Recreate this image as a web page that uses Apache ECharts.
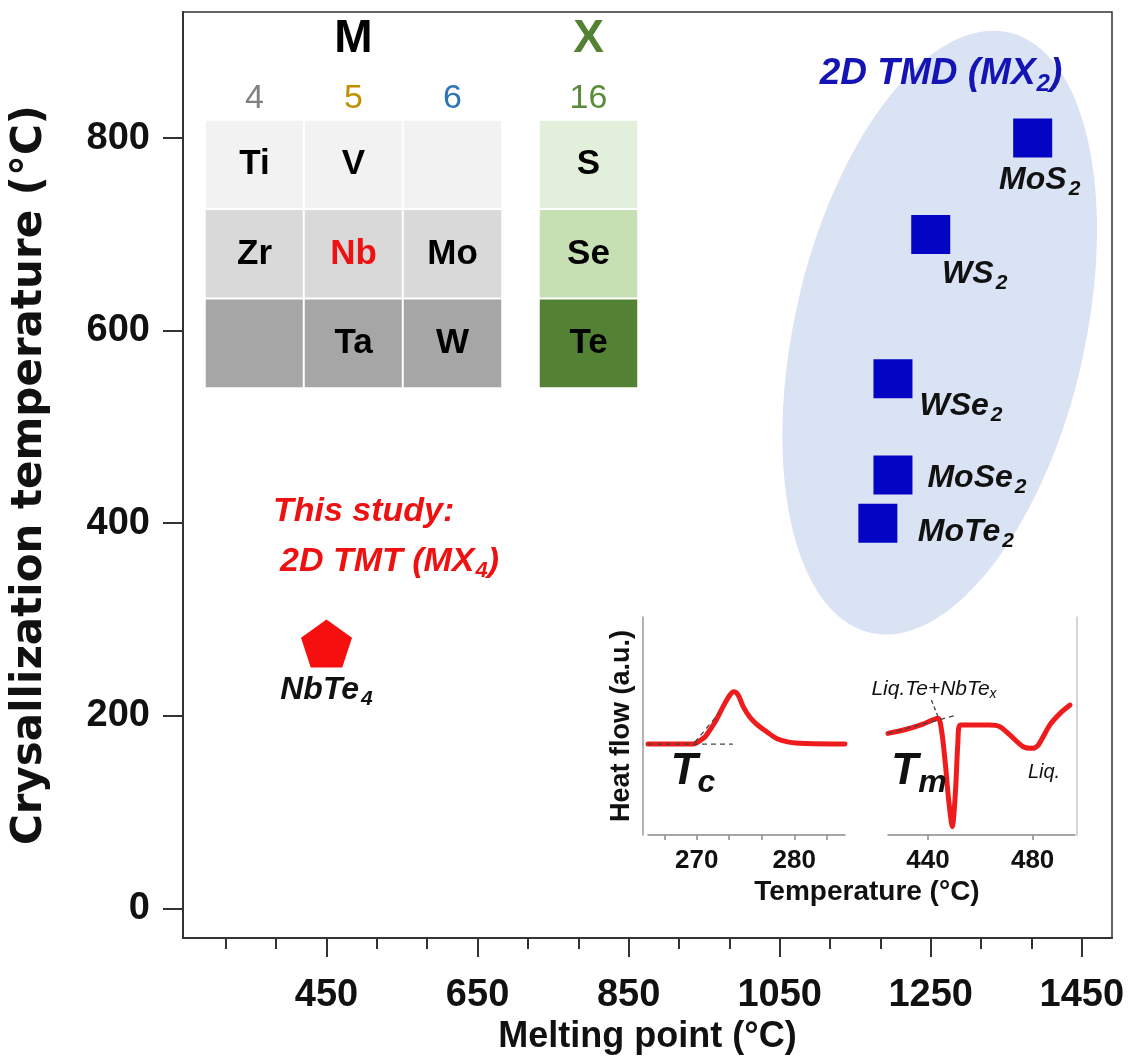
<!DOCTYPE html>
<html>
<head>
<meta charset="utf-8">
<script src="https://cdn.jsdelivr.net/npm/echarts@6/dist/echarts.min.js"></script>
<style>html,body{margin:0;padding:0;background:#fff}#c{width:1130px;height:1060px}</style>
</head>
<body>
<div id="c"></div>
<script>
// ---------- data ----------
const tmdNames = ['MoS2', 'WS2', 'WSe2', 'MoSe2', 'MoTe2'];
const tmdMelting = [1385, 1250, 1200, 1200, 1180];
const tmdCryst = [800, 700, 550, 450, 400];
const tmtNames = ['NbTe4'];
const tmtMelting = [450];
const tmtCryst = [275];

const xMajorTicks = [450, 650, 850, 1050, 1250, 1450];
const xMinorTicks = [316.67, 383.33, 516.67, 583.33, 716.67, 783.33, 916.67, 983.33, 1116.67, 1183.33, 1316.67, 1383.33];
const yTicks = [0, 200, 400, 600, 800];

// periodic table excerpt
const mGroups = ['4', '5', '6'];
const mElements = [['Ti', 'V', ''], ['Zr', 'Nb', 'Mo'], ['', 'Ta', 'W']];
const xGroups = ['16'];
const xElements = ['S', 'Se', 'Te'];
const highlightElement = 'Nb';

// DSC inset (heat flow, arbitrary units)
const dscCoolT = [265, 269.6, 270.65, 271.0, 272.0, 272.7, 273.4, 273.8, 274.25, 274.76, 275.45, 276.13, 277.16, 278.18, 279.55, 281.27, 285.2];
const dscCoolHF = [41.7, 41.7, 44.3, 45.9, 52.8, 58.9, 64.2, 65.7, 64.2, 58.9, 54.0, 50.9, 47.4, 44.3, 42.5, 42.0, 41.7];
const dscHeatT = [424.7, 431.7, 438.1, 443.8, 445.3, 446.6, 447.9, 449.3, 450.5, 451.4, 452.3, 457.3, 463.6, 467.5, 471.3, 476.4, 480.2, 482.2, 486.6, 490.5, 494.3];
const dscHeatHF = [46.6, 48.5, 50.9, 53.5, 47, 33, 16, 3.8, 20, 42, 50.5, 50.5, 50.5, 49.7, 45.9, 40.5, 39.8, 41.3, 50.5, 55.8, 59.6];
const dscCoolTicks = [266.67, 270, 273.33, 276.67, 280, 283.33];
const dscCoolLabels = [270, 280];
const dscHeatTicks = [440, 480];
const dscHeatLabels = [440, 480];
const tcBaseT = [265, 273.7], tcBaseHF = [41.7, 41.7];
const tcSlopeT = [269.8, 272.3], tcSlopeHF = [42.5, 56];
const tmBaseT = [424.7, 451], tmBaseHF = [46.6, 55];
const tmPointerT = [441.3, 443.8], tmPointerHF = [61.9, 54.3];

// ---------- styles ----------
const FF = '"Liberation Sans", Arial, sans-serif';
const mRowColors = ['#f2f2f2', '#d9d9d9', '#a6a6a6'];
const xRowColors = ['#e2efda', '#c6e0b4', '#548235'];
const mGroupColors = ['#808080', '#bf9000', '#2e75b6'];
const labelOffsets = { MoS2: [7, 42], WS2: [44, 40], WSe2: [68, 27], MoSe2: [84, 3], MoTe2: [88, 9], NbTe4: [0, 47] };
const PENTAGON = 'path://M50,0 L97.55,34.55 L79.39,90.45 L20.61,90.45 L2.45,34.55 Z';

function richName(n) {
  const m = n.match(/^(.*?)(\d+)$/);
  return m ? '{b|' + m[1] + '}{s|' + m[2] + '}' : '{b|' + n + '}';
}
const compoundRich = {
  b: { fontSize: 32, fontWeight: 'bold', fontStyle: 'italic', color: '#111', fontFamily: FF },
  s: { fontSize: 21, fontWeight: 'bold', fontStyle: 'italic', color: '#111', fontFamily: FF, padding: [18, 0, 0, 2] }
};

function scatterData(names, xs, ys) {
  return names.map((n, i) => ({
    name: n, value: [xs[i], ys[i]],
    label: { offset: labelOffsets[n] || [0, 0] }
  }));
}
function heatData(elements, rowColors) {
  const out = [];
  elements.forEach((row, r) => {
    const cols = Array.isArray(row) ? row : [row];
    cols.forEach((el, c) => {
      const item = { name: el, value: [c, r, r], itemStyle: { color: rowColors[r] } };
      if (el === highlightElement) item.label = { color: '#ee1111' };
      out.push(item);
    });
  });
  return out;
}
function zip(a, b) { return a.map((v, i) => [v, b[i]]); }

const chart = echarts.init(document.getElementById('c'));

const tickLabelStyle = { color: '#111', fontSize: 38, fontWeight: 'bold', fontFamily: FF, formatter: v => String(v) };
const insetLabel = { color: '#111', fontSize: 26, fontWeight: 'bold', fontFamily: FF, formatter: v => String(v) };
const dashStyle = { color: '#444', width: 1.3, type: [5, 4] };

const option = {
  animation: false,
  backgroundColor: '#fff',
  grid: [
    { left: 183, top: 12, right: 18, bottom: 121, show: true, borderColor: '#333', borderWidth: 1.5, backgroundColor: 'transparent' },
    { left: 648, top: 617, width: 197, height: 218 },
    { left: 888, top: 617, width: 187, height: 218 },
    { left: 205, top: 120, width: 297, height: 268 },
    { left: 539, top: 120, width: 99, height: 268 }
  ],
  xAxis: [
    {
      type: 'value', gridIndex: 0, min: 260, max: 1490,
      name: 'Melting point (°C)', nameLocation: 'middle', nameGap: 76,
      nameTextStyle: { color: '#111', fontSize: 36, fontWeight: 'bold', fontFamily: FF },
      axisLine: { show: true, onZero: false, lineStyle: { color: '#333', width: 2 } },
      axisTick: { show: true, customValues: xMajorTicks, length: 19, lineStyle: { color: '#333', width: 2 } },
      axisLabel: { customValues: xMajorTicks, margin: 38, ...tickLabelStyle },
      splitLine: { show: false }
    },
    {
      type: 'value', gridIndex: 0, min: 260, max: 1490, position: 'bottom',
      axisLine: { show: false, onZero: false },
      axisTick: { show: true, customValues: xMinorTicks, length: 11, lineStyle: { color: '#333', width: 2 } },
      axisLabel: { show: false }, splitLine: { show: false }
    },
    {
      type: 'value', gridIndex: 1, min: 265, max: 285.2,
      axisLine: { show: true, onZero: false, lineStyle: { color: '#8a8a8a', width: 1.5 } },
      axisTick: { show: true, customValues: dscCoolTicks, length: 5, lineStyle: { color: '#8a8a8a', width: 1.5 } },
      axisLabel: { customValues: dscCoolLabels, margin: 13, ...insetLabel },
      splitLine: { show: false }
    },
    {
      type: 'value', gridIndex: 2, min: 424.7, max: 496.2,
      axisLine: { show: true, onZero: false, lineStyle: { color: '#8a8a8a', width: 1.5 } },
      axisTick: { show: true, customValues: dscHeatTicks, length: 5, lineStyle: { color: '#8a8a8a', width: 1.5 } },
      axisLabel: { customValues: dscHeatLabels, margin: 13, ...insetLabel },
      splitLine: { show: false }
    },
    {
      type: 'category', gridIndex: 3, data: mGroups, position: 'top',
      name: 'M', nameLocation: 'middle', nameGap: 58,
      nameTextStyle: { color: '#000', fontSize: 46, fontWeight: 'bold', fontFamily: FF },
      axisLine: { show: false }, axisTick: { show: false },
      axisLabel: { margin: 4, fontSize: 34, fontFamily: FF, color: (v, i) => mGroupColors[i] }
    },
    {
      type: 'category', gridIndex: 4, data: xGroups, position: 'top',
      name: 'X', nameLocation: 'middle', nameGap: 58,
      nameTextStyle: { color: '#548235', fontSize: 46, fontWeight: 'bold', fontFamily: FF },
      axisLine: { show: false }, axisTick: { show: false },
      axisLabel: { margin: 4, fontSize: 34, fontFamily: FF, color: '#5b8c3a' }
    }
  ],
  yAxis: [
    {
      type: 'value', gridIndex: 0, min: -31, max: 931,
      name: 'Crysallization temperature (°C)', nameLocation: 'middle', nameGap: 132,
      nameTextStyle: { color: '#111', fontSize: 42, fontWeight: 'bold', fontFamily: '"DejaVu Sans", sans-serif' },
      axisLine: { show: true, onZero: false, lineStyle: { color: '#333', width: 2 } },
      axisTick: { show: true, customValues: yTicks, length: 20, lineStyle: { color: '#333', width: 2 } },
      axisLabel: { customValues: yTicks, margin: 33, ...tickLabelStyle },
      splitLine: { show: false }
    },
    {
      type: 'value', gridIndex: 1, min: 0, max: 100, offset: 5,
      name: 'Heat flow (a.u.)', nameLocation: 'middle', nameGap: 8,
      nameTextStyle: { color: '#111', fontSize: 27, fontWeight: 'bold', fontFamily: FF },
      axisLine: { show: true, onZero: false, lineStyle: { color: '#9a9a9a', width: 1.5 } },
      axisTick: { show: false }, axisLabel: { show: false }, splitLine: { show: false }
    },
    {
      type: 'value', gridIndex: 2, min: 0, max: 100, position: 'right', offset: 2,
      axisLine: { show: true, onZero: false, lineStyle: { color: '#c8c8c8', width: 1.5 } },
      axisTick: { show: false }, axisLabel: { show: false }, splitLine: { show: false }
    },
    { type: 'category', gridIndex: 3, data: ['r1', 'r2', 'r3'], inverse: true, show: false },
    { type: 'category', gridIndex: 4, data: ['r1', 'r2', 'r3'], inverse: true, show: false }
  ],
  series: [
    {
      name: '2D TMD (MX2)', type: 'scatter', xAxisIndex: 0, yAxisIndex: 0, z: 5,
      symbol: 'rect', symbolSize: 39,
      itemStyle: { color: '#0404c4', opacity: 1 },
      label: { show: true, position: 'inside', formatter: p => richName(p.name), rich: compoundRich },
      emphasis: { disabled: true },
      data: scatterData(tmdNames, tmdMelting, tmdCryst)
    },
    {
      name: '2D TMT (MX4)', type: 'scatter', xAxisIndex: 0, yAxisIndex: 0, z: 5,
      symbol: PENTAGON, symbolSize: [51, 48],
      itemStyle: { color: '#f50f0f', opacity: 1 },
      label: { show: true, position: 'inside', formatter: p => richName(p.name), rich: compoundRich },
      emphasis: { disabled: true },
      data: scatterData(tmtNames, tmtMelting, tmtCryst)
    },
    {
      type: 'heatmap', xAxisIndex: 4, yAxisIndex: 3,
      itemStyle: { borderColor: '#fff', borderWidth: 2 },
      label: { show: true, formatter: p => p.name, fontSize: 35, fontWeight: 'bold', color: '#000', fontFamily: FF },
      emphasis: { disabled: true },
      data: heatData(mElements, mRowColors)
    },
    {
      type: 'heatmap', xAxisIndex: 5, yAxisIndex: 4,
      itemStyle: { borderColor: '#fff', borderWidth: 2 },
      label: { show: true, formatter: p => p.name, fontSize: 35, fontWeight: 'bold', color: '#000', fontFamily: FF },
      emphasis: { disabled: true },
      data: heatData(xElements.map(e => [e]), xRowColors)
    },
    {
      type: 'line', xAxisIndex: 2, yAxisIndex: 1, smooth: 0.3, showSymbol: false, z: 6,
      lineStyle: { color: '#ee1c1c', width: 5, cap: 'round' },
      data: zip(dscCoolT, dscCoolHF)
    },
    {
      type: 'line', xAxisIndex: 3, yAxisIndex: 2, smooth: 0.25, showSymbol: false, z: 6,
      lineStyle: { color: '#ee1c1c', width: 5, cap: 'round' },
      data: zip(dscHeatT, dscHeatHF)
    },
    { type: 'line', xAxisIndex: 2, yAxisIndex: 1, showSymbol: false, z: 7, lineStyle: dashStyle, data: zip(tcBaseT, tcBaseHF) },
    { type: 'line', xAxisIndex: 2, yAxisIndex: 1, showSymbol: false, z: 7, lineStyle: dashStyle, data: zip(tcSlopeT, tcSlopeHF) },
    { type: 'line', xAxisIndex: 3, yAxisIndex: 2, showSymbol: false, z: 7, lineStyle: dashStyle, data: zip(tmBaseT, tmBaseHF) },
    { type: 'line', xAxisIndex: 3, yAxisIndex: 2, showSymbol: false, z: 7, lineStyle: { color: '#444', width: 1.3, type: [4, 3] }, data: zip(tmPointerT, tmPointerHF) }
  ]
};
chart.setOption(option);

// annotations anchored in data space
const zoneCenter = chart.convertToPixel({ gridIndex: 0 }, [1262, 598]);
const bigItalic = (color, size) => ({ fontSize: size, fontWeight: 'bold', fontStyle: 'italic', fill: color, fontFamily: FF });
chart.setOption({
  graphic: { elements: [
    {
      type: 'ellipse', x: zoneCenter[0], y: zoneCenter[1], rotation: -13 * Math.PI / 180, z: 1, silent: true,
      shape: { cx: 0, cy: 0, rx: 145, ry: 308 }, style: { fill: '#dae3f3' }
    },
    {
      type: 'text', x: 941, y: 74, z: 10, silent: true,
      style: {
        text: '{a|2D TMD (MX}{s|2}{a|)}', align: 'center', verticalAlign: 'middle',
        rich: { a: bigItalic('#1414b4', 37), s: Object.assign(bigItalic('#1414b4', 24), { padding: [20, 0, 0, 1] }) }
      }
    },
    {
      type: 'text', x: 273, y: 512, z: 10, silent: true,
      style: {
        text: '{a|This study:}', align: 'left', verticalAlign: 'middle',
        rich: { a: bigItalic('#ee1111', 34) }
      }
    },
    {
      type: 'text', x: 280, y: 562, z: 10, silent: true,
      style: {
        text: '{a|2D TMT (MX}{s|4}{a|)}', align: 'left', verticalAlign: 'middle',
        rich: { a: bigItalic('#ee1111', 34), s: Object.assign(bigItalic('#ee1111', 22), { padding: [18, 0, 0, 1] }) }
      }
    },
    {
      type: 'text', x: 867, y: 892, z: 10, silent: true,
      style: { text: 'Temperature (°C)', align: 'center', verticalAlign: 'middle', fontSize: 28, fontWeight: 'bold', fill: '#111', fontFamily: FF }
    },
    {
      type: 'text', x: 693, y: 772, z: 10, silent: true,
      style: {
        text: '{t|T}{s|c}', align: 'center', verticalAlign: 'middle',
        rich: { t: bigItalic('#111', 44), s: Object.assign(bigItalic('#111', 32), { padding: [22, 0, 0, 0] }) }
      }
    },
    {
      type: 'text', x: 919, y: 772, z: 10, silent: true,
      style: {
        text: '{t|T}{s|m}', align: 'center', verticalAlign: 'middle',
        rich: { t: bigItalic('#111', 44), s: Object.assign(bigItalic('#111', 32), { padding: [22, 0, 0, 0] }) }
      }
    },
    {
      type: 'text', x: 934, y: 689, z: 10, silent: true,
      style: {
        text: '{a|Liq.Te+NbTe}{s|x}', align: 'center', verticalAlign: 'middle',
        rich: {
          a: { fontSize: 21, fontStyle: 'italic', fill: '#111', fontFamily: FF },
          s: { fontSize: 14, fontStyle: 'italic', fill: '#111', fontFamily: FF, padding: [10, 0, 0, 0] }
        }
      }
    },
    {
      type: 'text', x: 1044, y: 772, z: 10, silent: true,
      style: { text: 'Liq.', align: 'center', verticalAlign: 'middle', fontSize: 20, fontStyle: 'italic', fill: '#111', fontFamily: FF }
    }
  ] }
});
</script>
</body>
</html>
